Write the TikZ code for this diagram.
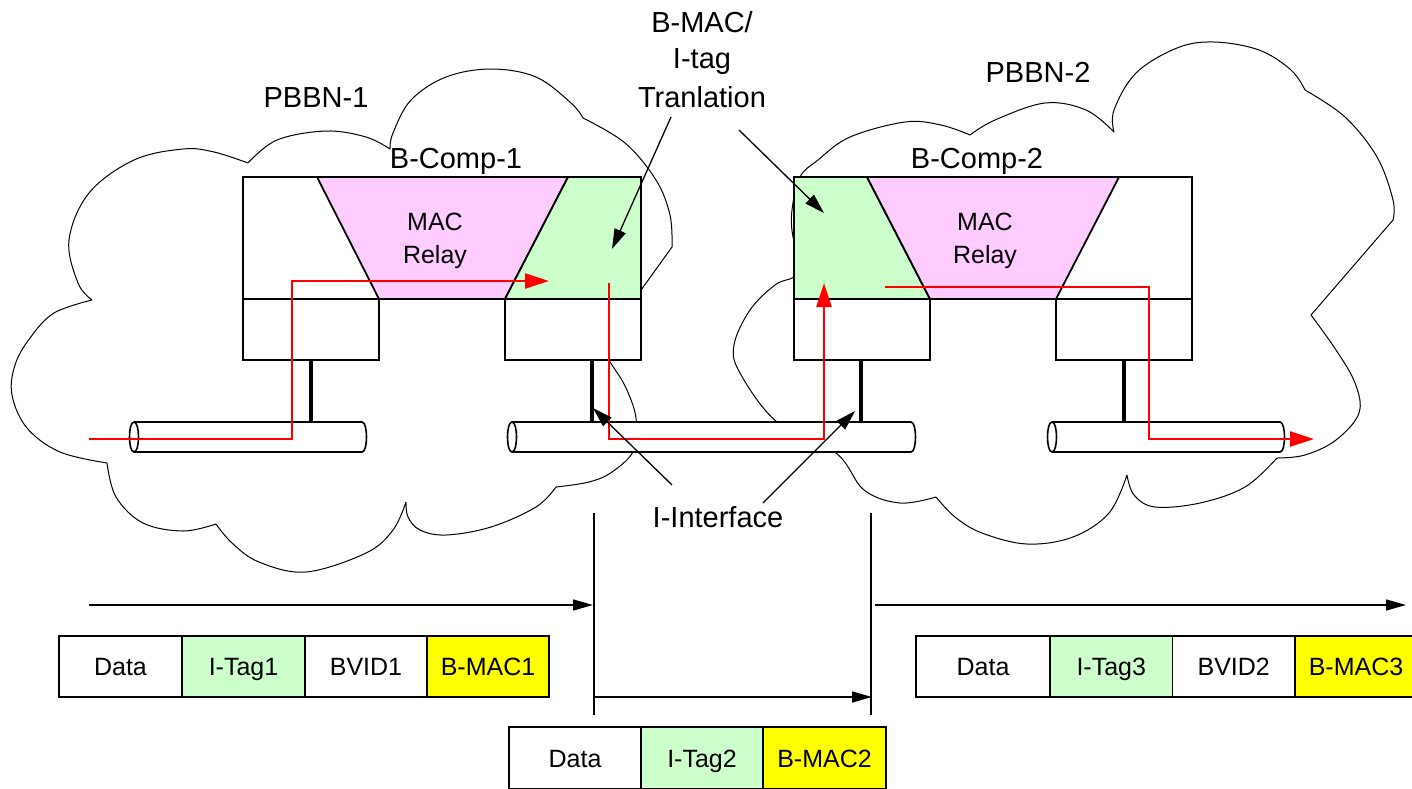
\documentclass[tikz,border=0pt]{standalone}
\usepackage{fontspec}
\setmainfont{Liberation Sans}
\usetikzlibrary{arrows.meta}
\definecolor{lgreen}{HTML}{CCFFCC}
\definecolor{lpink}{HTML}{FFCCFF}
\definecolor{byellow}{HTML}{FFFF00}
\begin{document}
\begin{tikzpicture}[x=1pt,y=-1pt,
  cloudline/.style={line width=1pt},
  boxline/.style={line width=1.8pt, draw=black},
  portbox/.style={draw, line width=1.8pt, fill=white, anchor=north west, outer sep=0pt, inner sep=0pt, minimum width=136pt, minimum height=61pt},
  pipebody/.style={line width=1.6pt, fill=white},
  stub/.style={line width=4pt},
  redline/.style={red, line width=2.6pt},
  redtip/.style={-{Triangle[length=24pt,width=15pt]}},
  blackarrow/.style={line width=1.3pt, -{Triangle[length=20pt,width=12pt]}},
  hline/.style={line width=1.4pt},
  bigtxt/.style={font=\fontsize{29}{34}\selectfont, inner sep=0pt, anchor=base},
  midtxt/.style={font=\fontsize{25}{30}\selectfont, inner sep=0pt, anchor=base},
  cell/.style={draw, line width=1.8pt, anchor=north west, outer sep=0pt, inner sep=0pt,
     font=\fontsize{25}{30}\selectfont, text height=18pt, text depth=0pt},
  cellA/.style={cell, minimum height=61pt},
  cellB/.style={cell, minimum height=62pt}
]
\path[use as bounding box] (0,0) rectangle (1412,788);
\clip (0,0) rectangle (1412,788);

% ---------- clouds ----------
\draw[cloudline]
  plot[smooth,tension=0.6] coordinates {(92,300) (78,283) (69,240) (89,193) (134,160) (183,149) (214,152) (248,163)}
  plot[smooth,tension=0.6] coordinates {(248,163) (277,140) (326,131) (366,137) (390,149)}
  plot[smooth,tension=0.6] coordinates {(390,149) (393,133) (411,100) (446,77) (491,69) (536,77) (571,103) (583,118)}
  plot[smooth,tension=0.6] coordinates {(583,118) (625,143) (656,180) (670,215) (672,247)} -- (600,347)
  plot[smooth,tension=0.6] coordinates {(600,347) (612,365) (626,388) (636,418) (634,450) (612,472) (589,482) (556,487)}
  plot[smooth,tension=0.6] coordinates {(556,487) (536,507) (491,527) (446,535) (420,530) (408,517) (406,502)}
  plot[smooth,tension=0.6] coordinates {(406,502) (393,530) (366,553) (306,572) (259,562) (232,543) (216,524)}
  plot[smooth,tension=0.6] coordinates {(216,524) (183,531) (143,523) (116,497) (107,463)}
  plot[smooth,tension=0.6] coordinates {(107,463) (60,452) (27,428) (12,395) (15,365) (30,338) (54,313) (92,300)};

\draw[cloudline]
  plot[smooth,tension=0.6] coordinates {(802,265) (793,237) (792,210) (800,177) (818,160) (850,137) (905,122) (941,125) (970,135)}
  plot[smooth,tension=0.6] coordinates {(970,135) (995,120) (1045,103) (1086,110) (1114,132)}
  plot[smooth,tension=0.6] coordinates {(1114,132) (1114,110) (1136,73) (1177,48) (1214,42) (1259,50) (1291,70) (1305,90)}
  plot[smooth,tension=0.6] coordinates {(1305,90) (1345,117) (1377,157) (1393,200) (1393,220)} -- (1311,315)
  plot[smooth,tension=0.6] coordinates {(1311,315) (1336,350) (1355,383) (1359,413) (1336,440) (1305,455) (1277,458)}
  plot[smooth,tension=0.6] coordinates {(1277,458) (1245,487) (1200,503) (1155,507) (1134,495) (1127,475)}
  plot[smooth,tension=0.6] coordinates {(1127,475) (1109,513) (1073,537) (1027,544) (982,533) (955,517) (936,497)}
  plot[smooth,tension=0.6] coordinates {(936,497) (900,503) (864,490) (836,453) (777,422) (740,373) (734,345) (750,310) (775,285) (794,277) (802,265)};

% ---------- B-Comp-1 ----------
\filldraw[boxline, fill=white] (243,177) rectangle (641,299);
\filldraw[boxline, fill=lpink] (317,177) -- (568,177) -- (505,299) -- (379,299) -- cycle;
\filldraw[boxline, fill=lgreen] (568,177) -- (641,177) -- (641,299) -- (505,299) -- cycle;
\node[portbox] (p1a) at (243,299) {};
\node[portbox] (p1b) at (505,299) {};

% ---------- B-Comp-2 ----------
\filldraw[boxline, fill=white] (794,177) rectangle (1192,299);
\filldraw[boxline, fill=lgreen] (794,177) -- (867,177) -- (930,299) -- (794,299) -- cycle;
\filldraw[boxline, fill=lpink] (867,177) -- (1119,177) -- (1056,299) -- (930,299) -- cycle;
\node[portbox] (p2a) at (794,299) {};
\node[portbox] (p2b) at (1056,299) {};

% ---------- pipes ----------
\filldraw[pipebody] (134,422) -- (362,422) .. controls (368,422) and (368,452) .. (362,452) -- (134,452) .. controls (128,452) and (128,422) .. (134,422) -- cycle;
\draw[line width=1.6pt] (134,422) .. controls (140,422) and (140,452) .. (134,452);
\filldraw[pipebody] (512,422) -- (911,422) .. controls (917,422) and (917,452) .. (911,452) -- (512,452) .. controls (506,452) and (506,422) .. (512,422) -- cycle;
\draw[line width=1.6pt] (512,422) .. controls (518,422) and (518,452) .. (512,452);
\filldraw[pipebody] (1052,422) -- (1280,422) .. controls (1286,422) and (1286,452) .. (1280,452) -- (1052,452) .. controls (1046,452) and (1046,422) .. (1052,422) -- cycle;
\draw[line width=1.6pt] (1052,422) .. controls (1058,422) and (1058,452) .. (1052,452);

% ---------- stubs ----------
\coordinate (s1t) at (311,360); \coordinate (s1b) at (311,422);
\coordinate (s2t) at (592,360); \coordinate (s2b) at (592,422);
\coordinate (s3t) at (861,360); \coordinate (s3b) at (861,422);
\coordinate (s4t) at (1124,360); \coordinate (s4b) at (1124,422);
\draw[stub] (s1t) -- (s1b);
\draw[stub] (s2t) -- (s2b);
\draw[stub] (s3t) -- (s3b);
\draw[stub] (s4t) -- (s4b);

% ---------- red path ----------
\coordinate (r1s) at (89,439);
\coordinate (r1c) at (292,281);
\coordinate (r1e) at (549,281);
\draw[redline, redtip] (r1s) -| (r1c) -- (r1e);
\coordinate (r2s) at (609,283);
\coordinate (r2c) at (824,439);
\coordinate (r2e) at (824,283);
\draw[redline, redtip] (r2s) |- (r2c) -- (r2e);
\coordinate (r3s) at (885,287);
\coordinate (r3c) at (1149,439);
\coordinate (r3e) at (1314,439);
\draw[redline, redtip] (r3s) -| (r3c) -- (r3e);

% ---------- labels ----------
\node[bigtxt] (pbbn1) at (316,107) {PBBN-1};
\node[bigtxt] (pbbn2) at (1038,82) {PBBN-2};
\node[bigtxt] (bcomp1) at (456,168) {B-Comp-1};
\node[bigtxt] (bcomp2) at (977,168) {B-Comp-2};
\node[midtxt] (mac1a) at (435,230) {MAC};
\node[midtxt] (mac1b) at (435,263) {Relay};
\node[midtxt] (mac2a) at (985,230) {MAC};
\node[midtxt] (mac2b) at (985,263) {Relay};
\node[bigtxt] (bmacA) at (702,32) {B-MAC/};
\node[bigtxt] (bmacB) at (702,68) {I-tag};
\node[bigtxt] (bmacC) at (702,107) {Tranlation};
\node[bigtxt] (iint) at (718,527) {I-Interface};

% ---------- label arrows ----------
\coordinate (ta1) at (671,117); \coordinate (th1) at (612,249);
\coordinate (ta2) at (739,130); \coordinate (th2) at (824,213);
\draw[blackarrow] (ta1) -- (th1);
\draw[blackarrow] (ta2) -- (th2);
\coordinate (ia1) at (672,485); \coordinate (ih1) at (593,408);
\coordinate (ia2) at (763,503); \coordinate (ih2) at (855,411);
\draw[blackarrow] (ia1) -- (ih1);
\draw[blackarrow] (ia2) -- (ih2);

% ---------- boundary lines and direction arrows ----------
\coordinate (v1t) at (594,513); \coordinate (v1b) at (594,715);
\coordinate (v2t) at (871,513); \coordinate (v2b) at (871,715);
\draw[hline] (v1t) -- (v1b);
\draw[hline] (v2t) -- (v2b);
\coordinate (h1s) at (89,605); \coordinate (h1e) at (593,605);
\coordinate (h2s) at (875,605); \coordinate (h2e) at (1406,605);
\coordinate (h3s) at (594,697); \coordinate (h3e) at (872,697);
\draw[hline, -{Triangle[length=20pt,width=11pt]}] (h1s) -- (h1e);
\draw[hline, -{Triangle[length=20pt,width=11pt]}] (h2s) -- (h2e);
\draw[hline, -{Triangle[length=20pt,width=11pt]}] (h3s) -- (h3e);

% ---------- frames ----------
\node[cellA, minimum width=123pt] (f1a) at (59,636) {Data};
\node[cellA, minimum width=123pt, fill=lgreen] (f1b) at (f1a.north east) {I-Tag1};
\node[cellA, minimum width=122pt] (f1c) at (f1b.north east) {BVID1};
\node[cellA, minimum width=122pt, fill=byellow] (f1d) at (f1c.north east) {B-MAC1};

\node[cellB, minimum width=132pt] (f2a) at (509,727) {Data};
\node[cellB, minimum width=122pt, fill=lgreen] (f2b) at (f2a.north east) {I-Tag2};
\node[cellB, minimum width=123pt, fill=byellow] (f2c) at (f2b.north east) {B-MAC2};

\node[cellA, minimum width=134pt] (f3a) at (916,636) {Data};
\node[cellA, minimum width=122.5pt, fill=lgreen] (f3b) at (f3a.north east) {I-Tag3};
\node[cellA, minimum width=122.5pt] (f3c) at (f3b.north east) {BVID2};
\node[cellA, minimum width=122pt, fill=byellow] (f3d) at (f3c.north east) {B-MAC3};
\end{tikzpicture}
\end{document}
